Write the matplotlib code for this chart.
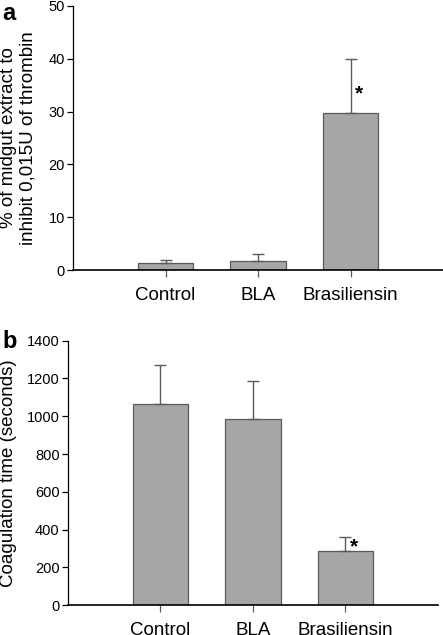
import numpy as np
import matplotlib
matplotlib.use("Agg")
import matplotlib.pyplot as plt

plt.rcParams['font.family'] = ['Liberation Sans', 'DejaVu Sans']

groups = ["Control", "BLA", "Brasiliensin"]

# panel a: % of midgut extract to inhibit thrombin
inhib_mean = [1.3, 1.7, 29.8]
inhib_err = [0.7, 1.3, 10.2]

# panel b: coagulation time
coag_mean = [1063, 988, 287]
coag_err = [207, 197, 73]

bar_color = "#a6a6a6"
edge_color = "#5a5a5a"

fig = plt.figure(figsize=(4.43, 6.35), dpi=100)
ax1 = fig.add_axes([0.165, 0.5743, 0.835, 0.4167])
ax2 = fig.add_axes([0.1535, 0.0468, 0.8345, 0.4167])

x = np.arange(len(groups))


def draw(ax, means, errs, ylim, yticks, ylabel, star_idx, star_y):
    ax.bar(x, means, width=0.6, color=bar_color, edgecolor=edge_color, linewidth=0.9, zorder=2)
    ax.errorbar(x, means, yerr=[np.zeros(len(errs)), errs], fmt='none',
                ecolor=edge_color, elinewidth=1.0, capsize=4, capthick=1.0, zorder=3)
    ax.set_xlim(-1, 3)
    ax.set_ylim(*ylim)
    ax.set_yticks(yticks)
    ax.set_xticks(x)
    ax.set_xticklabels(groups, fontsize=13.5)
    ax.tick_params(axis='y', labelsize=10.5, direction='out', length=4, width=0.9, pad=2)
    ax.tick_params(axis='x', direction='out', length=5, width=0.9, pad=7, color=edge_color)
    for s in ['top', 'right']:
        ax.spines[s].set_visible(False)
    ax.spines['left'].set_linewidth(0.9)
    ax.spines['bottom'].set_linewidth(1.2)
    ax.set_ylabel(ylabel, fontsize=13.5, linespacing=1.2)
    ax.text(star_idx + 0.09, star_y, "*", fontsize=15, fontweight='bold', ha='center', va='center')


draw(ax1, inhib_mean, inhib_err, (0, 50), range(0, 51, 10),
     "% of midgut extract to\ninhibit 0,015U of thrombin", 2, 33.3)
draw(ax2, coag_mean, coag_err, (0, 1400), range(0, 1401, 200),
     "Coagulation time (seconds)", 2, 310)
ax1.yaxis.set_label_coords(-0.1, 0.5)
ax2.yaxis.set_label_coords(-0.138, 0.5)

fig.text(0.005, 0.997, "a", fontsize=17, fontweight='bold', va='top')
fig.text(0.006, 0.481, "b", fontsize=17, fontweight='bold', va='top')

fig.savefig("out.png", dpi=100)
